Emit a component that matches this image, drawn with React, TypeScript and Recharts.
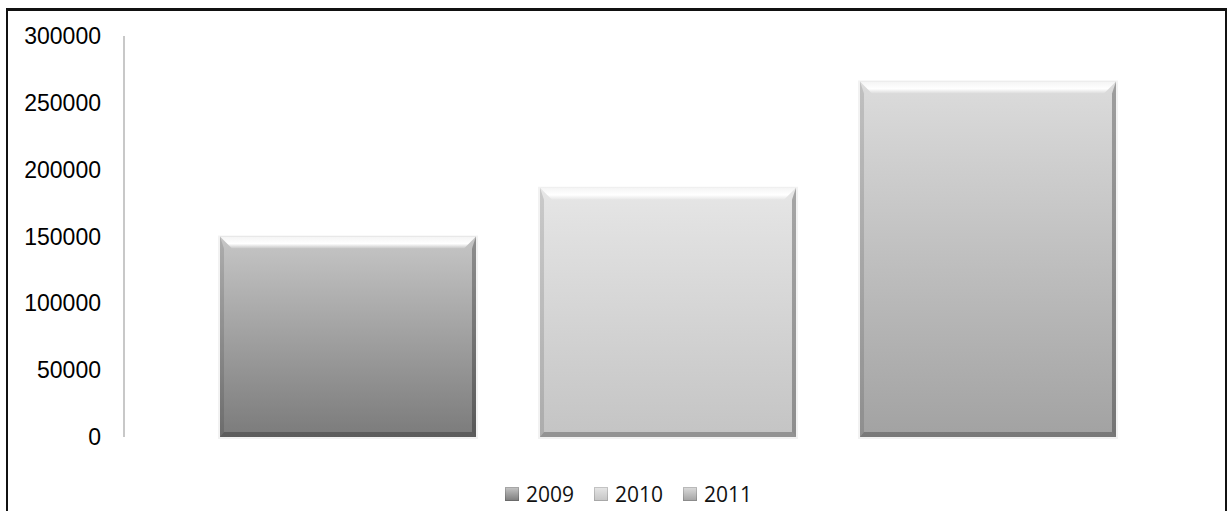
import React from "react";
import { BarChart, Bar, XAxis, YAxis, Legend } from "recharts";

const categories = ["Total"];
const seriesNames = ["2009", "2010", "2011"];
const values2009 = [150000];
const values2010 = [186500];
const values2011 = [266000];
const yTicks = [0, 50000, 100000, 150000, 200000, 250000, 300000];

const data = categories.map((c, i) => ({
  name: c,
  "2009": values2009[i],
  "2010": values2010[i],
  "2011": values2011[i],
}));

const grads: Record<string, [string, string]> = {
  "2009": ["#c6c6c6", "#7b7b7b"],
  "2010": ["#e6e6e6", "#c4c4c4"],
  "2011": ["#dcdcdc", "#a2a2a2"],
};

const BevelBar = (props: any) => {
  const { x, y, width: w, height: h, dataKey } = props;
  if (!w || !h) return null;
  const b = Math.min(12, h / 4);
  const id = `g${dataKey}`;
  return (
    <g>
      <rect x={x - 2} y={y - 1} width={w + 4} height={h + 3} fill="#000" opacity={0.05} />
      <rect x={x} y={y} width={w} height={h} fill={`url(#${id})`} />
      <polygon
        points={`${x},${y} ${x + w},${y} ${x + w - b},${y + b} ${x + b},${y + b}`}
        fill={`url(#top${dataKey})`}
      />
      <polygon
        points={`${x},${y} ${x + 4},${y + b} ${x + 4},${y + h - 5} ${x},${y + h}`}
        fill="#000"
        opacity={0.12}
      />
      <polygon
        points={`${x + w},${y} ${x + w - 4},${y + b} ${x + w - 4},${y + h - 5} ${x + w},${y + h}`}
        fill="#000"
        opacity={0.28}
      />
      <polygon
        points={`${x},${y + h} ${x + 4},${y + h - 5} ${x + w - 4},${y + h - 5} ${x + w},${y + h}`}
        fill="#000"
        opacity={0.25}
      />
    </g>
  );
};

const LegendContent = () => (
  <div
    style={{
      display: "flex",
      fontFamily: "'Open Sans', sans-serif",
      fontSize: 21,
      lineHeight: "28px",
      height: 28,
      color: "#111",
      alignItems: "center",
    }}
  >
    {seriesNames.map((s) => (
      <div key={s} style={{ display: "flex", alignItems: "center", width: 89 }}>
        <div
          style={{
            width: 14,
            height: 14,
            marginRight: 7,
            background: `linear-gradient(${grads[s][0]}, ${grads[s][1]})`,
            boxShadow: "inset 0 0 0 1px rgba(0,0,0,0.15)",
          }}
        />
        <span>{s}</span>
      </div>
    ))}
  </div>
);

export default function App() {
  return (
    <div
      style={{
        position: "absolute",
        left: 0,
        top: 0,
        width: 1228,
        height: 511,
        overflow: "hidden",
        background: "#fff",
      }}
    >
      <div
        style={{
          position: "absolute",
          left: 6,
          top: 8,
          width: 1217,
          height: 520,
          borderTop: "3px solid #111",
          borderLeft: "2px solid #111",
          borderRight: "2px solid #111",
        }}
      />
      <div style={{ position: "absolute", left: 0, top: 0 }}>
        <BarChart
          width={1228}
          height={511}
          data={data}
          margin={{ top: 36, right: 17, bottom: 46, left: 0 }}
          barCategoryGap={96}
          barGap={64}
        >
          <defs>
            {seriesNames.map((s) => (
              <React.Fragment key={s}>
                <linearGradient id={`g${s}`} x1="0" y1="0" x2="0" y2="1">
                  <stop offset="0%" stopColor={grads[s][0]} />
                  <stop offset="100%" stopColor={grads[s][1]} />
                </linearGradient>
                <linearGradient id={`top${s}`} x1="0" y1="0" x2="0" y2="1">
                  <stop offset="0%" stopColor="#f4f4f4" />
                  <stop offset="60%" stopColor="#ffffff" />
                  <stop offset="100%" stopColor={grads[s][0]} />
                </linearGradient>
              </React.Fragment>
            ))}
          </defs>
          <XAxis dataKey="name" hide />
          <YAxis
            width={124}
            domain={[0, 300000]}
            ticks={yTicks}
            interval={0}
            tickLine={false}
            tickSize={0}
            tickMargin={23}
            axisLine={{ stroke: "#c8c8c8", strokeWidth: 2 }}
            tick={{
              fill: "#000",
              fontSize: 23,
              fontFamily: "'Liberation Sans', Arial, sans-serif",
            }}
          />
          <Legend
            content={<LegendContent />}
            verticalAlign="bottom"
            height={28}
            wrapperStyle={{ left: 505, top: 480, width: 300, height: 28 }}
          />
          {seriesNames.map((s) => (
            <Bar
              key={s}
              dataKey={s}
              fill={grads[s][1]}
              shape={<BevelBar />}
              isAnimationActive={false}
            />
          ))}
        </BarChart>
      </div>
    </div>
  );
}
